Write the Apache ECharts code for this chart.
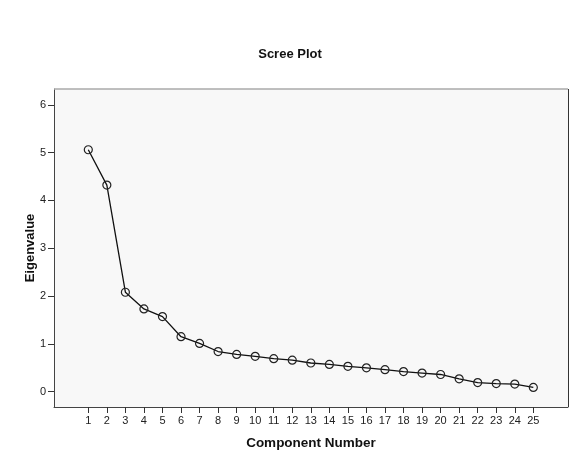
<!DOCTYPE html>
<html><head><meta charset="utf-8">
<script src="https://cdn.jsdelivr.net/npm/echarts@6/dist/echarts.min.js"></script>
<style>html,body{margin:0;padding:0;background:#fff}#c{width:580px;height:464px}</style>
</head><body><div id="c"></div>
<script>
const components = [1,2,3,4,5,6,7,8,9,10,11,12,13,14,15,16,17,18,19,20,21,22,23,24,25];
const eigenvalues = [5.06,4.32,2.08,1.73,1.57,1.15,1.01,0.84,0.78,0.74,0.69,0.66,0.60,0.57,0.53,0.50,0.46,0.42,0.39,0.36,0.27,0.19,0.17,0.16,0.09];
const yTicks = [0,1,2,3,4,5,6];

const chart = echarts.init(document.getElementById('c'), null, {renderer:'canvas'});
chart.setOption({
  animation:false,
  backgroundColor:'#ffffff',
  title:{text:'Scree Plot', left:'center', top:43,
    textStyle:{fontFamily:'Liberation Sans, Arial', fontSize:13, fontWeight:'bold', color:'#111'}},
  grid:{left:54, right:12, top:89, bottom:57, show:true, backgroundColor:'#f8f8f8', borderWidth:0},
  xAxis:{type:'value', min:-0.85, max:26.87,
    name:'Component Number', nameLocation:'middle', nameGap:29,
    nameTextStyle:{fontFamily:'Liberation Sans, Arial', fontSize:13.5, fontWeight:'bold', color:'#111'},
    axisLine:{show:true, onZero:false, lineStyle:{color:'#444', width:1}},
    axisTick:{show:true, inside:false, length:6, customValues:components, lineStyle:{color:'#333'}},
    axisLabel:{customValues:components, margin:8, fontFamily:'Liberation Sans, Arial', fontSize:11, color:'#222'},
    splitLine:{show:false}},
  yAxis:{type:'value', min:-0.32, max:6.33,
    name:'Eigenvalue', nameLocation:'middle', nameGap:17, nameRotate:90, nameMoveOverlap:false,
    nameTextStyle:{fontFamily:'Liberation Sans, Arial', fontSize:13, fontWeight:'bold', color:'#111'},
    axisLine:{show:true, onZero:false, lineStyle:{color:'#444', width:1}},
    axisTick:{show:true, inside:false, length:6, customValues:yTicks, lineStyle:{color:'#333'}},
    axisLabel:{customValues:yTicks, margin:8, fontFamily:'Liberation Sans, Arial', fontSize:11, color:'#222'},
    splitLine:{show:false}},
  series:[
    {type:'line', data:components.map((c,i)=>[c,eigenvalues[i]]),
     symbol:'circle', symbolSize:8, showAllSymbol:true,
     lineStyle:{color:'#111', width:1.3},
     itemStyle:{color:'rgba(0,0,0,0)', borderColor:'#222', borderWidth:1.2},
     emphasis:{disabled:true}, z:5},
    {type:'line', data:[], markLine:{silent:true, symbol:'none', label:{show:false},
      data:[
        [{coord:[-0.85,6.33], lineStyle:{color:'#aaaaaa', width:1.5, type:'solid'}},{coord:[26.87,6.33]}],
        [{coord:[26.87,6.33], lineStyle:{color:'#333333', width:1, type:'solid'}},{coord:[26.87,-0.32]}]
      ],
      lineStyle:{type:'solid', width:1, color:'#333'}}}
  ]
});
</script></body></html>
